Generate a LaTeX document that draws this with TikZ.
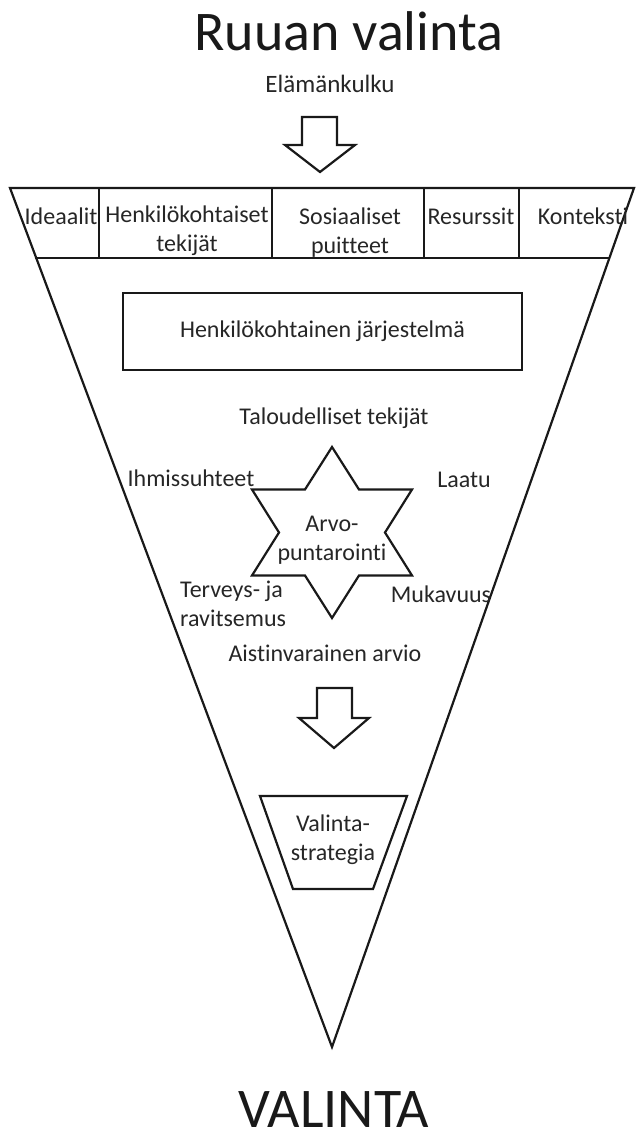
\documentclass[tikz,border=0pt]{standalone}
\usepackage{fontspec}
\setmainfont{Carlito}[Ligatures=NoCommon]
\begin{document}
\begin{tikzpicture}[x=1pt,y=-1pt,
  lbl/.style={font=\fontsize{24}{29}\selectfont, text=black!85, align=center, inner sep=0pt},
  big/.style={font=\fontsize{56}{60}\selectfont, text=black!90, inner sep=0pt},
  edge/.style={line width=2.2pt, line join=miter, draw=black!90}]
\useasboundingbox (0,0) rectangle (644,1139);
\node[big] (title) at (349,31) {Ruuan valinta};
\node[lbl, font=\fontsize{25}{29}\selectfont] (life) at (330,84) {Elämänkulku};
\draw[edge] (302,117) -- (337,117) -- (337,145) -- (355,145) -- (320,172) -- (285,145) -- (302,145) -- cycle;
\draw[edge] (10,188) -- (634,188) -- (332,1047) -- cycle;
\draw[edge] (35,258) -- (610,258);
\foreach \x in {99,272,424,519} \draw[edge] (\x,188) -- (\x,258);
\node[lbl] (ideal) at (61,216) {Ideaalit};
\node[lbl] (pers) at (187,231) {Henkilökohtaiset\\tekijät};
\node[lbl] (soc) at (350,233) {Sosiaaliset\\puitteet};
\node[lbl] (res) at (471,216) {Resurssit};
\node[lbl] (ctx) at (583,216) {Konteksti};
\node[lbl, draw=black!90, line width=2.2pt, minimum width=399pt, minimum height=77pt] (sys) at (322.5,331.5) {Henkilökohtainen järjestelmä};
\node[lbl] (econ) at (334,418) {Taloudelliset tekijät};
\node[lbl] (human) at (191,478) {Ihmissuhteet};
\node[lbl] (qual) at (464,480) {Laatu};
\draw[edge] (332,447) -- (359,489.5) -- (412,489.5) -- (385,532.5) -- (412,575.5) -- (359,575.5)
  -- (332,618) -- (305,575.5) -- (252,575.5) -- (279,532.5) -- (252,489.5) -- (305,489.5) -- cycle;
\node[lbl] (value) at (332,540) {Arvo-\\puntarointi};
\node[lbl, align=left, anchor=west] (health) at (180,604) {Terveys- ja\\ravitsemus};
\node[lbl] (comf) at (441,594) {Mukavuus};
\node[lbl] (sense) at (325,653) {Aistinvarainen arvio};
\draw[edge] (317,688) -- (352,688) -- (352,718) -- (369,718) -- (334,748) -- (299,718) -- (317,718) -- cycle;
\draw[edge] (260,796) -- (407,796) -- (373,889) -- (293,889) -- cycle;
\node[lbl] (strat) at (333,840) {Valinta-\\strategia};
\node[big] (choice) at (334,1110) {VALINTA};
\end{tikzpicture}
\end{document}
